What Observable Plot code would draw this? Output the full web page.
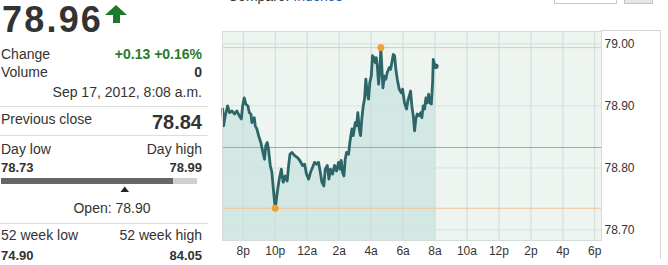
<!DOCTYPE html>
<html><head><meta charset="utf-8">
<script src="https://cdn.jsdelivr.net/npm/d3@7"></script>
<script src="https://cdn.jsdelivr.net/npm/@observablehq/plot@0.6"></script>
<style>
html,body{margin:0;padding:0;background:#fff;}
body{width:668px;height:265px;position:relative;overflow:hidden;font-family:"Liberation Sans",Arial,sans-serif;color:#333;}
.a{position:absolute;white-space:nowrap;font-size:14px;line-height:14px;}
.r{left:0;width:202px;text-align:right;}
.b{font-weight:bold;}
.sep{position:absolute;left:0;width:208px;height:1px;background:#dddddd;}
#chart{position:absolute;left:0;top:0;z-index:2;}
#chart svg{background:none;}
</style></head><body>
<div class="a" style="left:228px;top:-11px;">Compare: <span style="color:#1f5fa8">Indexes</span></div>
<div style="position:absolute;left:554px;top:-10px;width:61px;height:12px;border:1px solid #c8c8c8;background:#fff;"></div>
<div style="position:absolute;left:624px;top:-10px;width:27px;height:12px;border:1px solid #c4c4c4;background:#e6e6e6;"></div>
<div style="position:absolute;left:601px;top:30px;width:59px;height:228px;border-top:1px solid #d6d6d6;border-right:1px solid #d6d6d6;background:#fff;z-index:1;"></div>

<div class="a b" style="left:2px;top:0px;font-size:36px;line-height:40px;letter-spacing:2.2px;">78.96</div>
<svg class="a" style="left:104px;top:4px" width="25" height="21"><polygon points="12,1 23,11 16,11 16,19 9,19 9,11 1,11" fill="#1c7a2c"/></svg>

<div class="a" style="left:1px;top:47px;">Change</div>
<div class="a r b" style="top:47px;color:#2a7a2e;">+0.13 +0.16%</div>
<div class="a" style="left:1px;top:65px;">Volume</div>
<div class="a r b" style="top:65px;">0</div>
<div class="a r" style="top:85px;">Sep 17, 2012, 8:08 a.m.</div>
<div class="sep" style="top:106px;"></div>
<div class="a" style="left:1px;top:112px;">Previous close</div>
<div class="a r b" style="top:112px;font-size:20px;line-height:20px;">78.84</div>
<div class="sep" style="top:135px;"></div>
<div class="a" style="left:1px;top:142px;">Day low</div>
<div class="a r" style="top:142px;">Day high</div>
<div class="a b" style="left:1px;top:161px;font-size:13px;line-height:13px;">78.73</div>
<div class="a r b" style="top:161px;font-size:13px;line-height:13px;">78.99</div>
<div style="position:absolute;left:1px;top:178px;width:196px;height:6px;background:#cfcfcf;"></div>
<div style="position:absolute;left:1px;top:178px;width:172px;height:6px;background:#666;"></div>
<svg class="a" style="left:120px;top:186px" width="10" height="7"><polygon points="0.5,6 4.75,0.5 9,6" fill="#222"/></svg>
<div class="a" style="left:0;width:224px;text-align:center;top:201px;">Open: 78.90</div>
<div class="sep" style="top:223px;"></div>
<div class="a" style="left:1px;top:228px;">52 week low</div>
<div class="a r" style="top:228px;">52 week high</div>
<div class="a b" style="left:1px;top:249px;font-size:13px;line-height:13px;">74.90</div>
<div class="a r b" style="top:249px;font-size:13px;line-height:13px;">84.05</div>

<div id="chart"></div>
<script>
// time in hours (20 = 8p, 24 = 12a, 32 = 8a, 42 = 6p)
const hours = [18.71,18.77,18.87,19.02,19.14,19.29,19.46,19.60,19.75,19.88,19.96,20.06,20.16,20.29,20.38,20.48,20.54,20.69,20.75,20.85,20.96,21.10,21.23,21.33,21.41,21.50,21.58,21.69,21.79,21.90,22.00,22.13,22.25,22.38,22.50,22.63,22.75,22.84,22.92,23.04,23.21,23.38,23.54,23.71,23.84,23.96,24.09,24.21,24.34,24.46,24.59,24.71,24.82,24.92,25.04,25.13,25.26,25.36,25.46,25.59,25.71,25.84,25.96,26.05,26.13,26.21,26.30,26.38,26.46,26.59,26.67,26.80,26.88,27.01,27.09,27.17,27.26,27.34,27.42,27.51,27.59,27.67,27.76,27.84,27.92,28.01,28.09,28.17,28.26,28.32,28.39,28.47,28.55,28.61,28.67,28.74,28.84,28.92,29.01,29.14,29.22,29.30,29.39,29.47,29.55,29.64,29.76,29.89,29.97,30.09,30.22,30.30,30.39,30.47,30.55,30.64,30.72,30.80,30.89,31.01,31.10,31.18,31.26,31.35,31.43,31.51,31.60,31.68,31.77,31.85,31.89,31.97,32.05];
const prices = [78.895,78.868,78.884,78.900,78.889,78.892,78.887,78.892,78.884,78.879,78.900,78.913,78.903,78.900,78.889,78.887,78.873,78.881,78.868,78.863,78.852,78.841,78.825,78.814,78.836,78.841,78.830,78.804,78.793,78.761,78.735,78.761,78.782,78.798,78.777,78.787,78.779,78.804,78.822,78.825,78.820,78.817,78.812,78.804,78.806,78.790,78.782,78.793,78.801,78.809,78.806,78.809,78.793,78.777,78.771,78.798,78.804,78.782,78.798,78.790,78.804,78.795,78.809,78.798,78.812,78.793,78.787,78.814,78.825,78.822,78.841,78.863,78.852,78.873,78.868,78.889,78.863,78.852,78.879,78.900,78.911,78.943,78.921,78.911,78.938,78.948,78.981,78.978,78.970,78.978,78.964,78.935,78.959,78.994,78.964,78.929,78.948,78.943,78.954,78.962,78.959,78.970,78.983,78.981,78.959,78.943,78.927,78.921,78.927,78.905,78.895,78.908,78.916,78.924,78.900,78.884,78.860,78.879,78.887,78.884,78.889,78.881,78.900,78.895,78.913,78.905,78.919,78.905,78.903,78.938,78.975,78.967,78.964];
const xTicks = [20,22,24,26,28,30,32,34,36,38,40,42];
const xTickLabels = ["8p","10p","12a","2a","4a","6a","8a","10a","12p","2p","4p","6p"];
const yTicks = [78.70,78.80,78.90,79.00];
const extremeHours = [28.61, 22.00];
const extremePrices = [78.994, 78.735];
const prevCloseLevel = [78.833];
const xDomain = [18.70, 42.42];
const yDomain = [78.683, 79.020];

const data = hours.map((h, i) => ({h, p: prices[i]}));
const extremes = extremeHours.map((h, i) => ({h, p: extremePrices[i]}));
const last = [data[data.length - 1]];

const chart = Plot.plot({
  width: 668, height: 265,
  marginLeft: 222, marginRight: 67, marginTop: 31, marginBottom: 25,
  style: {background: "none", fontFamily: "'Liberation Sans', Arial, sans-serif", fontSize: "12px", color: "#333"},
  x: {domain: xDomain, ticks: xTicks, tickFormat: d => xTickLabels[xTicks.indexOf(d)], tickSize: 0, tickPadding: 6, label: null},
  y: {domain: yDomain, ticks: yTicks, tickFormat: d => d.toFixed(2), axis: "right", tickSize: 0, tickPadding: 3, label: null},
  marks: [
    Plot.frame({fill: "#eef5f1", stroke: "none"}),
    Plot.areaY(data, {x: "h", y1: yDomain[0], y2: "p", fill: "#d3e8e4"}),
    Plot.ruleX(xTicks, {stroke: "#c9dbd6", strokeWidth: 1}),
    Plot.ruleY(yTicks, {stroke: "#d3e2de", strokeWidth: 1}),
    Plot.ruleY(prevCloseLevel, {stroke: "#9ea9a5", strokeWidth: 1}),
    Plot.ruleY(extremePrices, {stroke: "#f2c597", strokeWidth: 1}),
    Plot.line(data, {x: "h", y: "p", stroke: "#2c6668", strokeWidth: 2.8, strokeLinejoin: "round"}),
    Plot.dot(extremes, {x: "h", y: "p", r: 3.5, fill: "#f0a135", stroke: "none"}),
    Plot.dot(last, {x: "h", y: "p", r: 2.8, fill: "#2c6668", stroke: "none"}),
    Plot.frame({stroke: "#d3dcd8"})
  ]
});
document.getElementById("chart").appendChild(chart);
</script>
</body></html>
